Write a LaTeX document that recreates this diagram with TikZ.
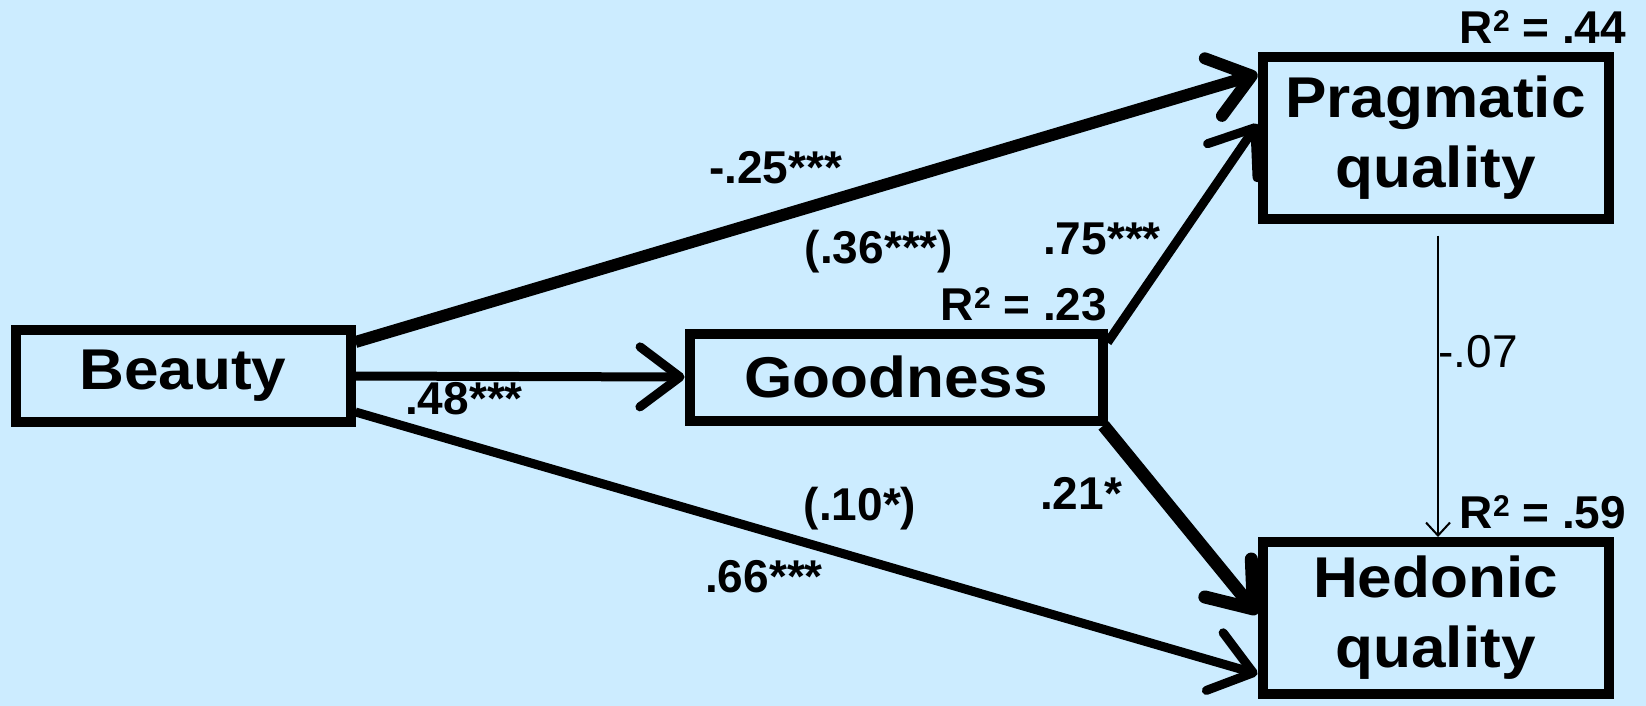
\documentclass[tikz,border=0pt]{standalone}
\usepackage{fontspec}
\setmainfont{Liberation Sans}
\newfontfamily\boxfont[FakeStretch=1.08]{Liberation Sans}
\usetikzlibrary{arrows.meta}
\definecolor{bgblue}{RGB}{204,236,255}
\newcommand{\rsq}{R\raisebox{12pt}{\fontsize{30}{30}\selectfont\bfseries 2}}
\begin{document}
\begin{tikzpicture}[x=1pt,y=-1pt,
  box/.style={draw=black, line width=10pt, inner sep=0pt, align=center,
    font=\boxfont\fontsize{57.5}{70}\selectfont\bfseries},
  lbl/.style={inner sep=0pt, font=\fontsize{46}{50}\selectfont\bfseries},
  lblthin/.style={inner sep=0pt, font=\fontsize{46}{50}\selectfont},
  conn/.style={line width=#1, -{Straight Barb[length=40pt,width=60pt,round]}},
  thinconn/.style={line width=2pt, -{Straight Barb[length=13pt,width=24pt]}}
]
\fill[bgblue] (0,0) rectangle (1646,706);
\useasboundingbox (0,0) rectangle (1646,706);

\node[box, minimum width=335pt, minimum height=92pt] (beauty) at (183,376) {Beauty};
\node[box, minimum width=413pt, minimum height=87pt] (goodness) at (896,377) {Goodness};
\node[box, minimum width=346pt, minimum height=161pt] (prag) at (1435.5,138) {Pragmatic\\quality};
\node[box, minimum width=346pt, minimum height=152pt] (hed) at (1435.5,618) {Hedonic\\quality};

\draw[conn=12pt] ([yshift=34pt]beauty.east) -- ([yshift=64pt]prag.west);
\draw[conn=9pt] (beauty.east) -- (goodness.west);
\draw[conn=9pt] ([yshift=-36pt]beauty.east) -- ([yshift=-56pt]hed.west);
\draw[conn=9pt] ([yshift=-14pt]goodness.north east) -- ([yshift=14pt]prag.west);
\draw[conn=13pt] ([xshift=-4pt]goodness.south east) -- ([yshift=4pt]hed.west);
\draw[thinconn] ([xshift=2.5pt,yshift=-12pt]prag.south) -- ([xshift=2.5pt]hed.north);

\node[lbl] (l25) at (775.5,168) {-.25***};
\node[lbl] (l36) at (879,252) {(.36***)};
\node[lbl] (l75) at (1102,239) {.75***};
\node[lbl] (r23) at (1024,304) {\rsq{} = .23};
\node[lbl] (l48) at (464,399) {.48***};
\node[lbl] (l10) at (860,509) {(.10*)};
\node[lbl] (l66) at (764,577) {.66***};
\node[lbl] (l21) at (1081,493) {.21*};
\node[lbl] (r44) at (1543,27) {\rsq{} = .44};
\node[lbl] (r59) at (1543,512) {\rsq{} = .59};
\node[lblthin] (l07) at (1478,352) {-.07};
\end{tikzpicture}
\end{document}
